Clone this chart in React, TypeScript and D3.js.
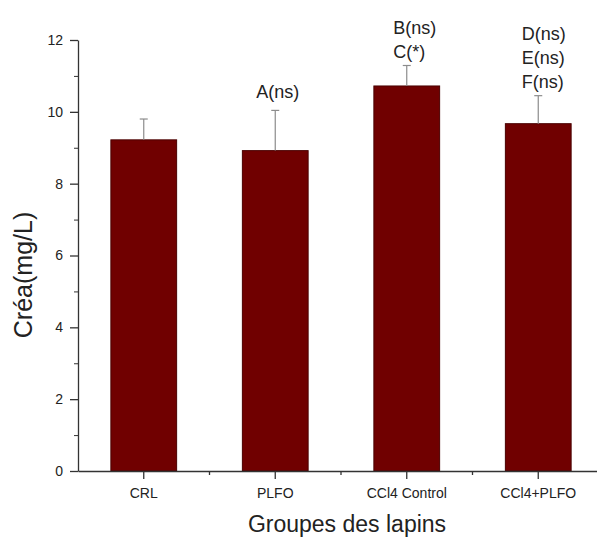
import React from "react";
import * as d3 from "d3";

// group names on the x axis
const categories = ["CRL", "PLFO", "CCl4 Control", "CCl4+PLFO"];
// mean creatinine per group (mg/L)
const means = [9.22, 8.92, 10.72, 9.67];
// upper error (SD)
const errors = [0.58, 1.12, 0.57, 0.78];
// significance labels above each bar
const annotations = [[], ["A(ns)"], ["B(ns)", "C(*)"], ["D(ns)", "E(ns)", "F(ns)"]];
const yTicks = [0, 2, 4, 6, 8, 10, 12];
const yMinorTicks = [1, 3, 5, 7, 9, 11];

const FONT = "'Liberation Sans', Arial, Helvetica, sans-serif";

export default function App() {
    const ref = React.useRef<SVGSVGElement>(null);

    React.useEffect(() => {
        const width = 597;
        const height = 538;
        const svg = d3.select(ref.current);
        svg.selectAll("*").remove();

        const x = d3
            .scaleBand()
            .domain(categories)
            .range([78, 604])
            .paddingInner(0.5)
            .paddingOuter(0.25);
        const y = d3.scaleLinear().domain([0, 12]).range([471, 40]);
        const center = (c: string) => (x(c) as number) + x.bandwidth() / 2;

        const rows = categories.map((c, i) => ({
            cat: c,
            mean: means[i],
            err: errors[i],
            notes: annotations[i],
        }));

        // bars
        svg.append("g")
            .selectAll("rect")
            .data(rows)
            .join("rect")
            .attr("x", (d) => x(d.cat) as number)
            .attr("y", (d) => y(d.mean))
            .attr("width", x.bandwidth())
            .attr("height", (d) => y(0) - y(d.mean))
            .attr("fill", "#700000")
            .attr("stroke", "#4a0000")
            .attr("stroke-width", 1);

        // error bars (upper only)
        const eb = svg.append("g").attr("stroke", "#8c8c8c").attr("stroke-width", 1.2);
        eb.selectAll("line.v")
            .data(rows)
            .join("line")
            .attr("class", "v")
            .attr("x1", (d) => center(d.cat))
            .attr("x2", (d) => center(d.cat))
            .attr("y1", (d) => y(d.mean))
            .attr("y2", (d) => y(d.mean + d.err));
        eb.selectAll("line.cap")
            .data(rows)
            .join("line")
            .attr("class", "cap")
            .attr("x1", (d) => center(d.cat) - 4)
            .attr("x2", (d) => center(d.cat) + 4)
            .attr("y1", (d) => y(d.mean + d.err))
            .attr("y2", (d) => y(d.mean + d.err));

        // annotations
        const noteDx = [0, -19, -13.5, -16.5];
        const noteGap = [0, 12, 7.5, 7.5];
        const lineH = 24;
        rows.forEach((d, i) => {
            const n = d.notes.length;
            d.notes.forEach((t, k) => {
                svg.append("text")
                    .attr("x", center(d.cat) + noteDx[i])
                    .attr("y", y(d.mean + d.err) - noteGap[i] - (n - 1 - k) * lineH)
                    .attr("font-family", FONT)
                    .attr("font-size", 18)
                    .attr("fill", "#222")
                    .text(t);
            });
        });

        // y axis
        const yAxis = svg
            .append("g")
            .attr("transform", "translate(78,0)")
            .call(d3.axisLeft(y).tickValues(yTicks).tickSize(8).tickSizeOuter(0).tickPadding(7));
        svg.append("g")
            .attr("transform", "translate(78,0)")
            .call(d3.axisLeft(y).tickValues(yMinorTicks).tickSize(4).tickFormat(() => ""))
            .select(".domain")
            .remove();

        // x axis
        const xAxis = svg
            .append("g")
            .attr("transform", "translate(0,471)")
            .call(d3.axisBottom(x).tickSize(8).tickSizeOuter(0).tickPadding(9));
        const minor = d3.range(1, categories.length).map((i) => 78 + i * x.step());
        svg.append("g")
            .attr("stroke", "#333")
            .attr("stroke-width", 1.3)
            .selectAll("line")
            .data(minor)
            .join("line")
            .attr("x1", (d) => d)
            .attr("x2", (d) => d)
            .attr("y1", 471)
            .attr("y2", 475);

        [yAxis, xAxis].forEach((g) => {
            g.selectAll("text")
                .attr("font-family", FONT)
                .attr("font-size", 14)
                .attr("fill", "#222");
            g.selectAll("line,path").attr("stroke", "#333").attr("stroke-width", 1.3);
        });
        svg.selectAll("g line").attr("stroke", "#333");
        eb.selectAll("line").attr("stroke", "#8c8c8c");

        // axis titles
        svg.append("text")
            .attr("transform", "translate(32,275) rotate(-90)")
            .attr("text-anchor", "middle")
            .attr("font-family", FONT)
            .attr("font-size", 25)
            .attr("fill", "#222")
            .text("Créa(mg/L)");
        svg.append("text")
            .attr("x", 347)
            .attr("y", 532)
            .attr("text-anchor", "middle")
            .attr("font-family", FONT)
            .attr("font-size", 23)
            .attr("fill", "#222")
            .text("Groupes des lapins");

        svg.attr("width", width).attr("height", height);
    }, []);

    return (
        <svg
            ref={ref}
            width={597}
            height={538}
            style={{ position: "absolute", left: 0, top: 0, background: "#fff" }}
        />
    );
}
